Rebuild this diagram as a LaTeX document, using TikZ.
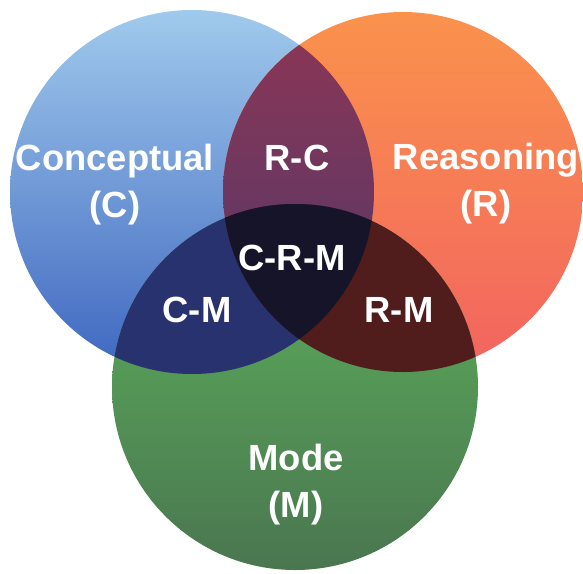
\documentclass[tikz,border=0pt]{standalone}
\usepackage{fontspec}
\setmainfont{Liberation Sans}
\definecolor{cTop}{RGB}{160,202,236}
\definecolor{cBot}{RGB}{62,102,192}
\definecolor{rTop}{RGB}{250,146,76}
\definecolor{rMid}{RGB}{246,108,84}
\definecolor{rBot}{RGB}{242,100,96}
\definecolor{mTop}{RGB}{94,180,92}
\definecolor{mBot}{RGB}{74,118,80}
\definecolor{rcTop}{RGB}{142,54,84}
\definecolor{rcBot}{RGB}{76,56,108}
\definecolor{cmFill}{RGB}{40,50,110}
\definecolor{rmFill}{RGB}{80,28,28}
\definecolor{crmFill}{RGB}{22,20,40}
\begin{document}
\begin{tikzpicture}[x=1pt, y=-1pt,
		lbl/.style={text=white, align=center, inner sep=0pt, font=\fontsize{36.4}{47}\selectfont\bfseries}]
		\useasboundingbox (0,0) rectangle (583,573);
		\coordinate (cC) at (192,192);
		\coordinate (cR) at (403,192);
		\coordinate (cM) at (295,387);
		% the three sets
		\shade[top color=cTop, bottom color=cBot] (cC) circle[radius=182pt];
		\shade[top color=rTop, middle color=rMid, bottom color=rBot] (cR) circle[radius=180pt];
		\shade[top color=mTop, bottom color=mBot] (cM) circle[radius=183pt];
		% pairwise overlaps
		\begin{scope}
			\clip (cC) circle[radius=182pt];
			\shade[top color=rcTop, bottom color=rcBot] (cR) circle[radius=180pt];
		\end{scope}
		\begin{scope}
			\clip (cC) circle[radius=182pt];
			\fill[cmFill] (cM) circle[radius=183pt];
		\end{scope}
		\begin{scope}
			\clip (cR) circle[radius=180pt];
			\fill[rmFill] (cM) circle[radius=183pt];
		\end{scope}
		% all three
		\begin{scope}
			\clip (cC) circle[radius=182pt];
			\clip (cR) circle[radius=180pt];
			\fill[crmFill] (cM) circle[radius=183pt];
		\end{scope}
		% labels
		\node[lbl] (conc) at (115,185) {Conceptual\\(C)};
		\node[lbl] (reas) at (486,184) {Reasoning\\(R)};
		\node[lbl] (mode) at (296,485) {Mode\\(M)};
		\node[lbl] (rc) at (297,158) {R-C};
		\node[lbl] (crm) at (292,258) {C-R-M};
		\node[lbl] (cm) at (197,310) {C-M};
		\node[lbl] (rm) at (399,310) {R-M};
	\end{tikzpicture}
\end{document}
